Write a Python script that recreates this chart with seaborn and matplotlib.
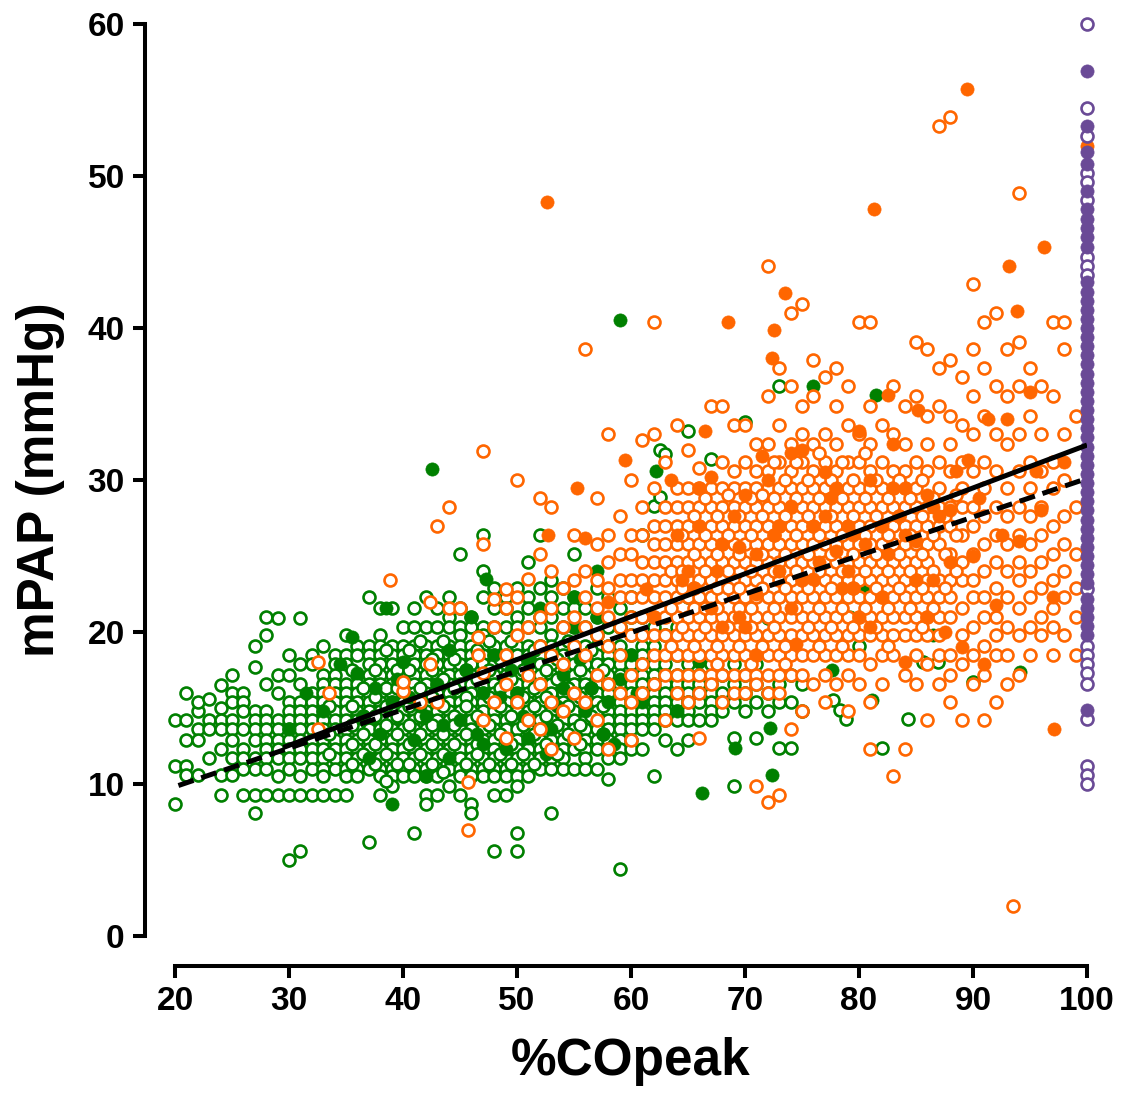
import matplotlib
matplotlib.use("Agg")
import matplotlib.pyplot as plt
import pandas as pd
import seaborn as sns

GREEN = '#008000'
ORANGE = '#FF6600'
PURPLE = '#6A4A96'

# green group, open circles: (%COpeak, [mPAP values])
green_open_cols = [
    (20, [14.2, 11.2, 8.7]),
    (21, [14.2, 12.9, 11.2, 16.0, 10.6]),
    (22, [14.8, 13.6, 15.4, 12.9, 10.6]),
    (23, [15.6, 11.7, 14.2, 13.6]),
    (24, [16.5, 15.0, 14.2, 13.6, 12.3, 10.6, 9.3]),
    (25, [17.2, 16.0, 15.4, 14.2, 13.6, 12.9, 11.7, 10.6]),
    (26, [16.0, 15.4, 14.8, 13.6, 12.3, 11.7, 11.0, 9.3]),
    (27, [19.1, 17.7, 14.8, 14.2, 13.6, 12.9, 11.7, 11.0, 9.3, 8.1]),
    (28, [21.0, 19.8, 16.6, 14.8, 14.2, 13.6, 12.9, 12.3, 11.7, 11.0, 9.3]),
    (29, [20.9, 17.2, 16.0, 14.2, 13.6, 12.9, 12.3, 11.7, 10.5, 9.3]),
    (30, [18.5, 17.2, 15.4, 14.8, 14.2, 13.6, 12.9, 12.3, 11.7, 11.0, 9.3, 5.0]),
    (31, [20.9, 17.9, 16.6, 15.4, 14.8, 14.2, 13.6, 12.9, 12.3, 11.7, 10.5, 9.3, 5.6]),
    (32, [18.5, 17.9, 16.0, 15.4, 14.8, 14.2, 13.6, 12.9, 12.3, 11.7, 11.0, 9.3]),
    (33, [19.1, 17.2, 16.6, 16.0, 15.4, 14.8, 14.2, 13.6, 12.9, 12.3, 11.7, 11.0, 10.5, 9.3]),
    (34, [18.5, 17.9, 17.2, 16.6, 16.0, 15.4, 14.8, 14.2, 13.6, 12.9, 12.3, 11.7, 11.0, 9.3]),
    (35, [19.8, 18.5, 17.9, 16.6, 16.0, 15.4, 14.8, 14.2, 13.6, 12.9, 12.3, 11.7, 11.0, 10.5, 9.3]),
    (36, [19.1, 18.5, 17.2, 16.6, 16.0, 15.4, 14.8, 14.2, 13.6, 12.9, 12.3, 11.7, 11.0, 10.5]),
    (37, [22.3, 19.1, 18.5, 17.9, 17.2, 16.6, 16.0, 15.4, 14.8, 14.2, 13.6, 12.9, 12.3, 11.7, 11.0, 6.2]),
    (38, [21.6, 19.8, 19.1, 18.5, 17.9, 17.2, 16.6, 16.0, 15.4, 14.8, 14.2, 13.6, 12.9, 12.3, 11.7, 11.0, 10.5, 9.3]),
    (39, [21.6, 19.1, 18.5, 17.9, 17.2, 16.6, 16.0, 15.4, 14.8, 14.2, 13.6, 12.9, 12.3, 11.7, 11.0, 10.5, 9.9]),
    (40, [20.3, 19.1, 18.5, 17.9, 17.2, 16.6, 16.0, 15.4, 14.8, 14.2, 13.6, 12.9, 12.3, 11.7, 11.0, 10.5]),
    (41, [21.6, 20.3, 19.1, 18.5, 17.9, 17.2, 16.6, 16.0, 15.4, 14.8, 14.2, 13.6, 12.9, 12.3, 11.7, 11.0, 10.5, 6.8]),
    (42, [22.3, 20.3, 19.1, 18.5, 17.9, 17.2, 16.6, 16.0, 15.4, 14.8, 14.2, 13.6, 12.9, 12.3, 11.7, 11.0, 10.5, 9.3, 8.7]),
    (43, [21.6, 20.3, 19.1, 18.5, 17.9, 17.2, 16.6, 16.0, 15.4, 14.8, 14.2, 13.6, 12.9, 12.3, 11.7, 11.0, 10.5, 9.3]),
    (44, [22.3, 21.0, 20.3, 19.1, 18.5, 17.9, 17.2, 16.6, 16.0, 15.4, 14.8, 14.2, 13.6, 12.9, 12.3, 11.7, 11.0, 9.9]),
    (45, [25.1, 21.6, 20.3, 19.8, 19.1, 18.5, 17.9, 17.2, 16.6, 16.0, 15.4, 14.8, 14.2, 13.6, 12.9, 12.3, 11.7, 11.0, 10.5, 9.3]),
    (46, [21.0, 20.3, 19.1, 18.5, 17.9, 17.2, 16.6, 16.0, 15.4, 14.8, 14.2, 13.6, 12.9, 12.3, 11.7, 11.0, 10.5, 8.7, 8.1]),
    (47, [26.4, 24.0, 22.3, 20.3, 19.8, 19.1, 18.5, 17.9, 17.2, 16.6, 16.0, 15.4, 14.8, 14.2, 13.6, 12.9, 12.3, 11.7, 11.0, 10.5]),
    (48, [22.9, 21.6, 20.3, 19.1, 18.5, 17.9, 17.2, 16.6, 16.0, 15.4, 14.8, 14.2, 13.6, 12.9, 12.3, 11.7, 11.0, 10.5, 9.3, 5.6]),
    (49, [22.3, 21.6, 20.3, 19.1, 18.5, 17.9, 17.2, 16.6, 16.0, 15.4, 14.8, 14.2, 13.6, 12.9, 12.3, 11.7, 11.0, 10.5, 9.3]),
    (50, [22.9, 21.0, 20.3, 19.1, 18.5, 17.9, 17.2, 16.6, 16.0, 15.4, 14.8, 14.2, 13.6, 12.9, 12.3, 11.7, 11.0, 10.5, 9.9, 6.8, 5.6]),
    (51, [24.6, 22.3, 21.6, 20.3, 19.1, 18.5, 17.9, 17.2, 16.6, 16.0, 15.4, 14.8, 14.2, 13.6, 12.9, 12.3, 11.7, 11.0, 10.5]),
    (52, [26.4, 22.9, 21.0, 20.3, 19.1, 18.5, 17.9, 17.2, 16.6, 16.0, 15.4, 14.8, 14.2, 13.6, 12.9, 12.3, 11.7, 11.0]),
    (53, [23.4, 22.3, 21.0, 19.8, 19.1, 18.5, 17.9, 17.2, 16.6, 16.0, 15.4, 14.8, 14.2, 13.6, 12.9, 12.3, 11.7, 11.0, 8.1]),
    (54, [22.9, 21.6, 20.3, 19.1, 18.5, 17.9, 17.2, 16.6, 16.0, 15.4, 14.8, 14.2, 13.6, 12.9, 12.3, 11.7, 11.0]),
    (55, [25.1, 22.3, 21.6, 20.3, 19.1, 18.5, 17.9, 17.2, 16.6, 16.0, 15.4, 14.8, 14.2, 13.6, 12.9, 12.3, 11.0]),
    (56, [21.6, 20.3, 19.1, 18.5, 17.9, 17.2, 16.6, 16.0, 15.4, 14.8, 14.2, 13.6, 12.9, 12.3, 11.7, 11.0]),
    (57, [22.9, 21.0, 19.8, 19.1, 18.5, 17.9, 17.2, 16.6, 16.0, 15.4, 14.8, 14.2, 13.6, 12.9, 12.3, 11.0]),
    (58, [22.3, 20.3, 19.1, 18.5, 17.9, 17.2, 16.6, 16.0, 15.4, 14.8, 14.2, 13.6, 12.9, 12.3, 11.7, 10.3]),
    (59, [21.6, 20.3, 19.1, 18.5, 17.9, 17.2, 16.6, 16.0, 15.4, 14.8, 14.2, 13.6, 12.9, 12.3, 11.7, 4.4]),
    (60, [22.3, 21.0, 19.8, 18.5, 17.9, 17.2, 16.6, 16.0, 15.4, 14.8, 14.2, 13.6, 12.9, 12.3]),
    (61, [26.4, 21.0, 19.1, 18.5, 17.9, 17.2, 16.6, 16.0, 15.4, 14.8, 14.2, 13.6, 12.3]),
    (62, [28.3, 20.3, 19.1, 17.9, 17.2, 16.6, 16.0, 15.4, 14.8, 14.2, 13.6, 10.5]),
    (62.5, [28.9, 32.0]),
    (63, [31.7, 19.8, 17.9, 17.2, 16.6, 16.0, 15.4, 14.8, 14.2, 12.9]),
    (64, [20.3, 18.5, 17.2, 16.6, 16.0, 15.4, 14.8, 14.2, 12.3]),
    (65, [33.2, 22.3, 17.9, 17.2, 16.6, 16.0, 15.4, 14.8, 14.2, 12.9]),
    (66, [18.5, 17.2, 16.6, 16.0, 15.4, 14.2]),
    (67, [31.4, 17.9, 16.6, 16.0, 15.4, 14.8, 14.2]),
    (68, [17.2, 16.0, 15.4, 14.8]),
    (69, [17.9, 16.6, 15.4, 13.0, 9.9]),
    (70, [33.8, 17.2, 16.0, 14.8]),
    (71, [17.9, 16.6, 15.4, 13.0]),
    (72, [20.9, 16.0, 14.8]),
    (73, [36.2, 16.6, 15.4, 12.4]),
    (74, [17.2, 15.4, 12.4]),
    (75, [16.6, 14.8]),
    (77.7, [15.5]),
    (78.3, [14.9]),
    (78.9, [14.3]),
    (80, [19.1]),
    (82, [12.4]),
    (84.3, [14.3]),
    (85.6, [18.0]),
    (86.9, [18.0]),
    (90, [16.7]),
]

# green open circles sitting between the columns above
green_open_between = [
    (33.5, [15.1, 13.3, 12.0]),
    (35.5, [17.5, 15.1, 13.9, 12.6, 11.3]),
    (36.5, [16.3, 14.5, 13.3, 12.0]),
    (37.5, [17.5, 15.7, 14.5, 12.6, 11.3]),
    (38.5, [18.8, 16.3, 15.1, 13.9, 12.0, 10.2]),
    (39.5, [17.5, 16.3, 14.5, 13.3, 11.3]),
    (40.5, [18.8, 17.5, 15.1, 13.9, 12.6, 11.3]),
    (41.5, [19.4, 16.3, 14.5, 13.3, 12.0]),
    (42.5, [18.2, 17.5, 15.7, 13.9, 12.6, 11.3]),
    (43.5, [19.4, 16.9, 15.1, 13.3, 12.0, 10.8]),
    (44.5, [18.2, 16.3, 14.5, 13.9, 12.6]),
    (45.5, [17.5, 15.7, 15.1, 13.3, 11.3]),
    (46.5, [18.8, 16.9, 14.5, 12.6, 12.0]),
    (47.5, [19.4, 17.5, 15.7, 13.9, 11.3]),
    (48.5, [18.2, 16.3, 15.1, 13.3, 12.0]),
    (49.5, [19.4, 16.9, 14.5, 12.6, 11.3]),
    (50.5, [17.5, 15.7, 13.9, 12.0]),
    (51.5, [18.8, 16.3, 15.1, 13.3, 11.3]),
    (52.5, [17.5, 15.7, 14.5, 12.6]),
    (53.5, [18.2, 16.9, 13.9, 12.0]),
    (54.5, [19.4, 16.3, 15.1, 13.3]),
    (55.5, [17.5, 15.7, 13.9, 12.6]),
    (56.5, [18.8, 16.3, 14.5]),
    (57.5, [17.5, 15.1, 13.3]),
]

green_filled_x = [59.0, 42.5, 62.2, 39.0, 66.2, 76.0, 81.5, 69.1, 72.2, 72.4, 94.1, 47.3, 38.5,
                  35.5, 36.0, 40.0, 43.0, 46.0, 48.0, 50.0, 52.0, 55.0, 54.0, 57.0, 60.0, 63.0,
                  66.0, 70.0, 58.0, 45.0, 41.0, 37.0, 42.0, 49.0, 53.0, 56.0, 61.0, 64.0, 68.0,
                  33.0, 30.0, 39.0, 47.0, 51.0, 44.0, 62.0, 65.0, 70.0, 73.0, 77.6, 80.5, 79.2,
                  86.5, 81.1, 57.0, 55.0, 52.0, 34.5, 31.5,
                  36.5, 38.0, 39.5, 41.5, 43.5, 45.5, 47.0, 48.5, 50.5, 52.5, 54.0, 55.5, 57.5,
                  59.0, 44.0, 40.5, 46.5, 49.5, 53.5, 56.5, 42.0, 37.5, 51.0, 58.5, 60.5]
green_filled_y = [40.5, 30.7, 30.6, 8.7, 9.4, 36.2, 35.6, 12.4, 13.7, 10.6, 17.4, 23.5, 21.6,
                  19.7, 17.3, 18.0, 16.6, 21.0, 18.5, 16.0, 19.1, 20.3, 17.2, 21.0, 18.5, 19.8,
                  18.0, 16.0, 15.4, 14.2, 12.9, 11.7, 10.5, 12.3, 13.6, 14.8, 15.4, 14.8, 17.2,
                  14.8, 13.6, 15.4, 16.0, 13.0, 11.7, 16.6, 15.4, 21.0, 22.3, 17.5, 22.8, 21.0,
                  19.8, 15.5, 24.0, 22.3, 21.6, 17.9, 16.0,
                  14.5, 13.3, 16.9, 15.1, 13.9, 17.5, 12.6, 15.7, 14.5, 12.0, 16.3, 18.2, 13.3,
                  16.9, 18.8, 15.7, 13.3, 17.5, 15.1, 16.3, 14.5, 16.3, 18.2, 12.6, 16.0]

# orange group, open circles
orange_open_cols = [
    (32.5, [18.0, 13.6]),
    (33.5, [16.0]),
    (38.9, [23.4]),
    (40, [16.1, 16.7]),
    (41.5, [15.4]),
    (42.4, [22.0, 17.9]),
    (43, [15.4, 27.0]),
    (44, [28.2, 21.6]),
    (45, [21.6]),
    (45.7, [10.1, 7.0]),
    (46.6, [19.7, 18.5]),
    (47, [31.9, 25.8, 17.3, 14.2]),
    (48, [22.2, 20.3, 15.4]),
    (49, [22.8, 21.6, 18.5, 16.6, 13.0]),
    (50, [30.0, 22.3, 19.8, 15.4]),
    (51, [23.5, 20.3, 17.2, 14.2]),
    (52, [28.8, 25.1, 21.0, 19.1, 16.6, 13.6]),
    (53, [28.2, 24.0, 21.6, 18.5, 15.4, 12.3]),
    (54, [22.9, 20.3, 17.9, 14.8]),
    (55, [26.4, 23.4, 21.0, 19.1, 16.0, 13.0]),
    (56, [38.6, 24.0, 22.3, 20.3, 18.5, 15.4]),
    (57, [28.8, 25.8, 23.4, 21.6, 19.8, 17.2, 14.2]),
    (58, [33.0, 26.4, 24.6, 22.9, 21.0, 19.1, 16.6, 12.3]),
    (59, [27.6, 25.1, 23.4, 22.3, 20.3, 18.5, 16.0]),
    (60, [30.0, 26.4, 25.1, 23.4, 22.3, 21.0, 19.8, 17.2, 15.4, 12.9]),
    (61, [32.6, 28.2, 26.4, 24.6, 23.4, 22.3, 21.0, 19.8, 17.9, 16.0]),
    (62, [40.4, 33.0, 29.5, 27.0, 25.8, 24.6, 23.4, 22.3, 21.0, 19.8, 18.5, 16.6]),
    (63, [31.2, 28.2, 27.0, 25.8, 24.6, 23.4, 22.3, 21.0, 19.8, 18.5, 17.2, 14.2]),
    (64, [33.6, 29.5, 28.2, 27.0, 25.8, 24.6, 23.4, 22.3, 21.0, 19.8, 18.5, 17.2, 16.0]),
    (65, [32.0, 29.5, 28.2, 27.0, 25.8, 24.6, 23.4, 22.3, 21.0, 19.8, 18.5, 17.2, 15.4]),
    (66, [30.8, 29.5, 28.2, 27.0, 25.8, 24.6, 23.4, 22.3, 21.0, 19.8, 18.5, 17.2, 16.0, 13.0]),
    (67, [34.9, 29.5, 28.2, 27.0, 25.8, 24.6, 23.4, 22.3, 21.0, 19.8, 18.5, 17.2, 16.6]),
    (68, [34.9, 31.2, 29.5, 28.2, 27.0, 25.8, 24.6, 23.4, 22.3, 21.0, 19.8, 18.5, 17.2, 15.4]),
    (69, [33.6, 30.6, 29.5, 28.2, 27.0, 25.8, 24.6, 23.4, 22.3, 21.0, 19.8, 18.5, 17.2, 16.0]),
    (70, [33.6, 31.2, 29.5, 28.2, 27.0, 25.8, 24.6, 23.4, 22.3, 21.0, 19.8, 18.5, 17.2, 16.0]),
    (71, [32.4, 30.6, 29.5, 28.2, 27.0, 25.8, 24.6, 23.4, 22.3, 21.0, 19.8, 18.5, 17.2, 16.6, 9.9]),
    (72, [44.1, 35.5, 32.4, 30.6, 29.5, 28.2, 27.0, 25.8, 24.6, 23.4, 22.3, 21.0, 19.8, 18.5, 17.2, 16.0, 8.8]),
    (73, [37.4, 33.6, 31.2, 29.5, 28.2, 27.0, 25.8, 24.6, 23.4, 22.3, 21.0, 19.8, 18.5, 17.2, 16.0, 9.3]),
    (74, [41.0, 36.2, 32.4, 30.6, 29.5, 28.2, 27.0, 25.8, 24.6, 23.4, 22.3, 21.0, 19.8, 18.5, 17.2, 13.6]),
    (75, [41.6, 34.9, 33.0, 31.2, 29.5, 28.2, 27.0, 25.8, 24.6, 23.4, 22.3, 21.0, 19.8, 18.5, 17.2, 14.8]),
    (76, [37.9, 35.5, 32.4, 30.6, 29.5, 28.2, 27.0, 25.8, 24.6, 23.4, 22.3, 21.0, 19.8, 18.5, 16.6]),
    (77, [36.8, 33.0, 31.2, 29.5, 28.2, 27.0, 25.8, 24.6, 23.4, 22.3, 21.0, 19.8, 18.5, 17.2, 15.4]),
    (78, [37.4, 34.9, 32.4, 30.6, 29.5, 28.2, 27.0, 25.8, 24.6, 23.4, 22.3, 21.0, 19.8, 18.5, 16.6]),
    (79, [36.2, 33.6, 31.2, 29.5, 28.2, 27.0, 25.8, 24.6, 23.4, 22.3, 21.0, 19.8, 18.5, 17.2, 14.8]),
    (80, [40.4, 33.0, 31.2, 29.5, 28.2, 27.0, 25.8, 24.6, 23.4, 22.3, 21.0, 19.8, 18.5, 16.6]),
    (81, [40.4, 34.9, 32.4, 30.6, 29.5, 28.2, 27.0, 25.8, 24.6, 23.4, 22.3, 21.0, 19.8, 17.9, 15.4, 12.3]),
    (82, [33.6, 31.2, 29.5, 28.2, 27.0, 25.8, 24.6, 23.4, 22.3, 21.0, 19.8, 18.5, 16.6]),
    (83, [36.2, 33.0, 30.6, 29.5, 28.2, 27.0, 25.8, 24.6, 23.4, 22.3, 21.0, 19.8, 18.5, 10.5]),
    (84, [34.9, 32.4, 30.6, 29.5, 28.2, 27.0, 25.8, 24.6, 23.4, 22.3, 21.0, 19.8, 17.2, 12.3]),
    (85, [39.1, 35.5, 31.2, 29.5, 28.2, 27.0, 25.8, 24.6, 23.4, 22.3, 21.0, 19.8, 18.5, 16.6]),
    (86, [38.6, 34.2, 32.4, 30.6, 28.2, 27.0, 25.8, 24.6, 23.4, 22.3, 21.0, 19.8, 17.9, 14.2]),
    (87, [53.3, 37.4, 34.9, 31.2, 29.5, 28.2, 27.0, 25.8, 23.4, 22.3, 21.0, 19.8, 18.5, 16.6]),
    (88, [53.9, 37.9, 34.2, 32.4, 30.6, 28.2, 27.0, 25.1, 23.4, 22.3, 21.0, 18.5, 17.2, 15.4]),
    (89, [36.8, 33.6, 31.2, 29.5, 28.2, 26.4, 24.6, 23.4, 21.6, 19.8, 17.9, 14.2]),
    (90, [42.9, 38.6, 35.5, 33.0, 30.6, 28.2, 27.0, 25.1, 23.4, 22.3, 20.3, 18.5, 16.6]),
    (91, [40.4, 37.4, 34.2, 31.2, 29.5, 27.6, 25.8, 24.0, 22.3, 21.0, 19.1, 17.2, 14.2]),
    (92, [41.0, 36.2, 33.0, 30.6, 28.2, 26.4, 24.6, 22.9, 21.0, 19.8, 18.5, 15.4]),
    (93, [38.6, 35.5, 32.4, 29.5, 27.6, 25.8, 24.0, 22.3, 20.3, 18.5, 16.6]),
    (93.5, [2.0]),
    (94, [48.9, 39.1, 36.2, 33.0, 30.6, 28.2, 26.4, 24.6, 23.4, 21.6, 19.8, 17.2]),
    (95, [37.4, 34.2, 31.2, 29.5, 27.6, 25.8, 24.0, 22.3, 20.3, 18.5]),
    (96, [36.2, 33.0, 30.6, 28.2, 26.4, 24.6, 22.9, 21.0, 19.8]),
    (97, [40.4, 35.5, 31.2, 29.5, 27.0, 25.1, 23.4, 21.6, 20.3, 18.5]),
    (98, [40.4, 38.6, 33.0, 30.0, 27.6, 25.8, 24.0, 22.3, 19.8]),
    (99, [34.2, 28.2, 25.1, 22.9, 21.0, 18.5]),
]

# orange open circles sitting between the columns above
orange_open_between = [
    (63.5, [24.0, 21.6, 19.1]),
    (64.5, [26.4, 24.0, 22.9, 20.3]),
    (65.5, [27.6, 25.1, 22.9, 21.6, 19.1]),
    (66.5, [28.8, 26.4, 24.0, 21.6, 20.3]),
    (67.5, [27.6, 25.1, 22.9, 21.6, 19.1, 17.9]),
    (68.5, [29.0, 26.4, 24.0, 22.9, 20.3]),
    (69.5, [27.6, 25.1, 22.9, 21.6, 19.1]),
    (70.5, [28.8, 26.4, 24.0, 21.6, 20.3, 17.9]),
    (71.5, [29.0, 27.6, 25.1, 22.9, 19.1]),
    (72.5, [31.2, 28.8, 26.4, 24.0, 21.6, 20.3]),
    (73.5, [30.0, 27.6, 25.1, 22.9, 19.1, 17.9]),
    (74.5, [31.2, 28.8, 26.4, 24.0, 21.6]),
    (75.5, [30.0, 27.6, 25.1, 22.9, 20.3]),
    (76.5, [31.8, 28.8, 26.4, 24.0, 21.6, 19.1]),
    (77.5, [30.0, 27.6, 25.1, 22.9, 20.3]),
    (78.5, [31.2, 28.8, 26.4, 24.0, 21.6, 19.1]),
    (79.5, [30.0, 27.6, 25.1, 22.9, 20.3]),
    (80.5, [31.8, 28.8, 26.4, 24.0, 21.6]),
    (81.5, [30.0, 27.6, 25.1, 22.9, 20.3]),
    (82.5, [28.8, 26.4, 24.0, 21.6, 19.1]),
    (83.5, [30.0, 27.6, 25.1, 22.9]),
    (84.5, [28.8, 26.4, 24.0, 21.6]),
    (85.5, [30.0, 27.6, 25.1, 22.9, 20.3]),
    (86.5, [28.8, 26.4, 24.0, 21.6]),
    (87.5, [27.6, 25.1, 22.9]),
    (88.5, [29.0, 26.4, 24.0]),
]

orange_filled_x = [52.6, 81.3, 89.5, 96.2, 93.2, 73.5, 72.5, 68.5, 72.4, 59.5, 55.3, 52.7, 97.1,
                   100.0, 89.6, 93.9, 91.3, 85.2, 82.5, 56.0, 63.5, 66.0, 70.0, 74.0, 77.0, 79.0,
                   80.0, 83.0, 86.0, 88.5, 90.0, 92.0, 94.0, 96.0, 97.0, 98.0, 87.5, 84.0, 80.0,
                   76.0, 71.0, 68.0, 65.0, 62.0, 58.0, 74.5, 78.0, 82.0, 86.5, 91.0, 89.0, 75.0,
                   66.5, 69.5, 73.0, 81.0, 85.0, 88.0, 95.0, 61.3, 64.0, 67.0, 77.0, 84.0, 79.5,
                   71.5, 93.0,
                   65.5, 67.5, 69.0, 71.0, 72.5, 74.0, 76.0, 77.5, 79.0, 80.5, 82.0, 83.5, 85.0,
                   86.5, 88.0, 66.0, 68.0, 70.0, 73.0, 75.0, 78.0, 81.0, 84.0, 87.0, 69.5, 72.0,
                   76.5, 79.5, 83.0, 86.0, 64.5, 90.5, 92.5, 95.5, 74.0, 78.5, 82.5, 71.0, 67.0]
orange_filled_y = [48.3, 47.8, 55.7, 45.3, 44.1, 42.3, 39.9, 40.4, 38.0, 31.3, 29.5, 26.4, 13.6,
                   52.0, 31.3, 41.1, 34.0, 34.6, 35.6, 26.2, 30.0, 27.0, 29.0, 28.3, 30.5, 27.0,
                   33.2, 32.4, 29.0, 30.6, 25.0, 21.8, 26.0, 28.0, 22.3, 31.2, 20.0, 18.0, 21.0,
                   23.5, 22.5, 20.3, 24.0, 21.0, 22.0, 19.2, 25.3, 27.0, 23.4, 17.9, 19.0, 32.0,
                   33.2, 25.6, 24.0, 30.0, 26.0, 28.0, 35.8, 22.8, 26.4, 30.2, 27.6, 29.5, 22.9,
                   31.6, 34.0,
                   22.9, 24.0, 27.6, 25.1, 26.4, 21.6, 27.0, 28.8, 24.0, 25.8, 22.3, 27.6, 23.4,
                   28.2, 24.6, 29.5, 25.8, 20.3, 27.0, 23.4, 29.5, 20.3, 26.4, 27.6, 21.0, 30.0,
                   24.6, 26.4, 29.5, 21.0, 23.4, 28.8, 26.4, 30.6, 31.8, 22.9, 25.1, 18.5, 21.6]

# purple group, all at 100 %COpeak
purple_open_y = [60.0, 54.5, 52.6, 50.2, 49.6, 48.4, 44.7, 44.1, 43.5, 22.8, 19.1, 18.5, 17.9,
                 17.3, 16.6, 14.3, 11.2, 10.6, 10.0]
purple_filled_y = [56.9, 53.3, 51.6, 50.8, 49.0, 47.8, 47.2, 46.6, 46.0, 45.3, 43.0, 42.4, 41.8,
                   41.2, 40.6, 40.0, 39.4, 38.8, 38.2, 37.6, 37.0, 36.4, 35.8, 35.2, 34.6, 34.0,
                   33.4, 32.8, 32.2, 31.6, 31.0, 30.4, 29.8, 29.2, 28.6, 28.0, 27.4, 26.8, 26.2,
                   25.6, 25.0, 24.4, 23.8, 23.2, 22.2, 21.6, 21.0, 20.4, 19.8, 14.9]
purple_x = 100

# regression lines (end points)
fit_solid_x = [29.5, 100]
fit_solid_y = [12.4, 32.3]
fit_dash_x = [20.3, 100]
fit_dash_y = [9.9, 30.1]


def cols_to_frame(*col_lists):
    xs, ys = [], []
    for cols in col_lists:
        for x, col in cols:
            xs += [x] * len(col)
            ys += col
    return pd.DataFrame({'x': xs, 'y': ys})


sns.set_style("ticks")
plt.rcParams['font.family'] = ['Liberation Sans', 'DejaVu Sans']
plt.rcParams['font.weight'] = 'bold'
plt.rcParams['axes.edgecolor'] = 'black'
plt.rcParams['axes.labelcolor'] = 'black'
plt.rcParams['xtick.color'] = 'black'
plt.rcParams['ytick.color'] = 'black'
plt.rcParams['text.color'] = 'black'

fig = plt.figure(figsize=(11.22, 10.97), dpi=100)
ax = fig.add_axes([175 / 1122, 161 / 1097, 912 / 1122, 912 / 1097])

open_kw = dict(marker='o', s=74, linewidth=1.9, facecolor='white', clip_on=False, legend=False)
fill_kw = dict(marker='o', s=90, linewidth=0.5, clip_on=False, legend=False)

green_open = cols_to_frame(green_open_cols, green_open_between)
orange_open = cols_to_frame(orange_open_cols, orange_open_between)
green_filled = pd.DataFrame({'x': green_filled_x, 'y': green_filled_y})
orange_filled = pd.DataFrame({'x': orange_filled_x, 'y': orange_filled_y})
purple_open = pd.DataFrame({'x': purple_x, 'y': purple_open_y})
purple_filled = pd.DataFrame({'x': purple_x, 'y': purple_filled_y})

sns.scatterplot(data=green_open, x='x', y='y', ax=ax, color=GREEN, edgecolor=GREEN, **open_kw)
sns.scatterplot(data=green_filled, x='x', y='y', ax=ax, color=GREEN, edgecolor=GREEN, **fill_kw)
sns.scatterplot(data=orange_open, x='x', y='y', ax=ax, color=ORANGE, edgecolor=ORANGE, **open_kw)
sns.scatterplot(data=orange_filled, x='x', y='y', ax=ax, color=ORANGE, edgecolor=ORANGE, **fill_kw)
sns.scatterplot(data=purple_open, x='x', y='y', ax=ax, color=PURPLE, edgecolor=PURPLE, **open_kw)
sns.scatterplot(data=purple_filled, x='x', y='y', ax=ax, color=PURPLE, edgecolor=PURPLE, **fill_kw)

ax.plot(fit_solid_x, fit_solid_y, color='black', lw=3.6, solid_capstyle='butt', zorder=5)
ax.plot(fit_dash_x, fit_dash_y, color='black', lw=3.6, dashes=(3.2, 1.6), zorder=5)

ax.set_xlim(20, 100)
ax.set_ylim(0, 60)
ax.set_xticks(range(20, 101, 10))
ax.set_yticks(range(0, 61, 10))

for side in ['top', 'right']:
    ax.spines[side].set_visible(False)
for side in ['left', 'bottom']:
    ax.spines[side].set_linewidth(2.9)
    ax.spines[side].set_position(('outward', 21.6))

ax.tick_params(width=2.9, length=8.6, labelsize=24, pad=6, color='black', labelcolor='black')
for lab in ax.get_xticklabels() + ax.get_yticklabels():
    lab.set_fontweight('bold')

ax.set_xlabel('%COpeak', fontsize=37, fontweight='bold', labelpad=14)
ax.set_ylabel('mPAP (mmHg)', fontsize=37, fontweight='bold', labelpad=16)

fig.savefig('out.png', dpi=100)
